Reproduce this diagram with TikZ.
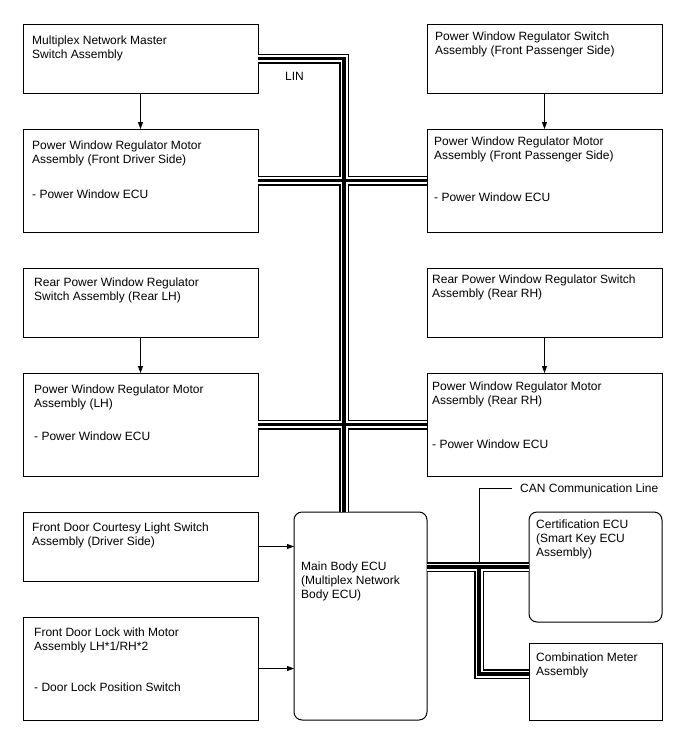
\documentclass[tikz,border=0pt]{standalone}
\usepackage{fontspec}
\setmainfont{Liberation Sans}
\usetikzlibrary{arrows.meta,positioning}
\tikzset{
  unitbox/.style={draw, line width=1pt, fill=white, inner sep=0pt, outer sep=0pt,
    minimum width=235pt},
  switchbox/.style={unitbox, minimum height=69pt},
  motorbox/.style={unitbox, minimum height=103pt},
  ecubox/.style={unitbox, minimum width=133pt},
  boxtext/.style={anchor=north west, inner sep=0pt, align=left,
    font=\fontsize{12}{14}\selectfont},
  sigarrow/.style={-{Triangle[length=7pt,width=5pt]}, line width=0.8pt},
  busline/.style={draw=black, line width=10pt, line join=miter,
    postaction={draw=white, line width=7pt},
    postaction={draw=black, line width=3.5pt}},
  note/.style={inner sep=0pt, font=\fontsize{12}{14}\selectfont}
}

\begin{document}
\begin{tikzpicture}[x=1pt, y=-1pt, node distance=36pt]
  \useasboundingbox (0,0) rectangle (688,755);
  % left column
  \node[switchbox, anchor=north west,
    label={[boxtext, xshift=9pt, yshift=-12pt]north west:{Multiplex Network Master\\Switch Assembly}}] (ms) at (23,24) {};
  \node[motorbox, below=of ms,
    label={[boxtext, xshift=9pt, yshift=-12pt]north west:{Power Window Regulator Motor\\Assembly (Front Driver Side)\\[21pt]- Power Window ECU}}] (drvmot) {};
  \node[switchbox, below=of drvmot,
    label={[boxtext, xshift=11pt, yshift=-10pt]north west:{Rear Power Window Regulator\\Switch Assembly (Rear LH)}}] (lhsw) {};
  \node[motorbox, below=of lhsw,
    label={[boxtext, xshift=11pt, yshift=-12pt]north west:{Power Window Regulator Motor\\Assembly (LH)\\[19pt]- Power Window ECU}}] (lhmot) {};
  \node[switchbox, below=of lhmot,
    label={[boxtext, xshift=9pt, yshift=-11pt]north west:{Front Door Courtesy Light Switch\\Assembly (Driver Side)}}] (courtesy) {};
  \node[motorbox, below=of courtesy,
    label={[boxtext, xshift=11pt, yshift=-11pt]north west:{Front Door Lock with Motor\\Assembly LH*1/RH*2\\[27pt]- Door Lock Position Switch}}] (doorlock) {};
  % right column
  \node[switchbox, right=169pt of ms,
    label={[boxtext, xshift=8pt, yshift=-8pt]north west:{Power Window Regulator Switch\\Assembly (Front Passenger Side)}}] (passw) {};
  \node[motorbox, below=of passw,
    label={[boxtext, xshift=7pt, yshift=-8pt]north west:{Power Window Regulator Motor\\Assembly (Front Passenger Side)\\[28pt]- Power Window ECU}}] (pasmot) {};
  \node[switchbox, below=of pasmot,
    label={[boxtext, xshift=5pt, yshift=-7pt]north west:{Rear Power Window Regulator Switch\\Assembly (Rear RH)}}] (rhsw) {};
  \node[motorbox, below=of rhsw,
    label={[boxtext, xshift=5pt, yshift=-9pt]north west:{Power Window Regulator Motor\\Assembly (Rear RH)\\[30pt]- Power Window ECU}}] (rhmot) {};
  % ecus
  \node[ecubox, rounded corners=8pt, minimum height=208pt,
    right=36pt of courtesy.north east, anchor=north west,
    label={[boxtext, xshift=7pt, yshift=-50pt]north west:{Main Body ECU\\(Multiplex Network\\Body ECU)}}] (mainecu) {};
  \node[ecubox, rounded corners=8pt, minimum height=110pt,
    right=102pt of mainecu.north east, anchor=north west,
    label={[boxtext, xshift=7pt, yshift=-8pt]north west:{Certification ECU\\(Smart Key ECU\\Assembly)}}] (certecu) {};
  \node[ecubox, minimum height=77pt, below=21pt of certecu,
    label={[boxtext, xshift=7pt, yshift=-10pt]north west:{Combination Meter\\Assembly}}] (meter) {};

  \draw[sigarrow] (ms) -- (drvmot);
  \draw[sigarrow] (lhsw) -- (lhmot);
  \draw[sigarrow] (passw) -- (pasmot);
  \draw[sigarrow] (rhsw) -- (rhmot);
  \draw[sigarrow] (courtesy.east) -- (courtesy.east -| mainecu.west);
  \draw[sigarrow] (doorlock.east) -- (doorlock.east -| mainecu.west);

  % LIN bus
  \coordinate (linx) at (344,0);
  \draw[busline] (ms.east) -| (mainecu.north -| linx)
    (drvmot.east) -- (pasmot.west)
    (lhmot.east) -- (rhmot.west);
  \node[note, anchor=north west] (lin) at (285,72) {LIN};

  % CAN bus
  \coordinate (canx) at (479,0);
  \draw[busline] (certecu.west -| mainecu.east) -- (certecu.west)
    (certecu.west -| canx) |- ([yshift=7.5pt]meter.west);
  \coordinate (cantap) at (479,562);
  \node[note, inner xsep=8pt, anchor=west] (canlbl) at (512,488) {CAN Communication Line};
  \draw[line width=0.8pt] (cantap) |- (canlbl.west);
\end{tikzpicture}
\end{document}
